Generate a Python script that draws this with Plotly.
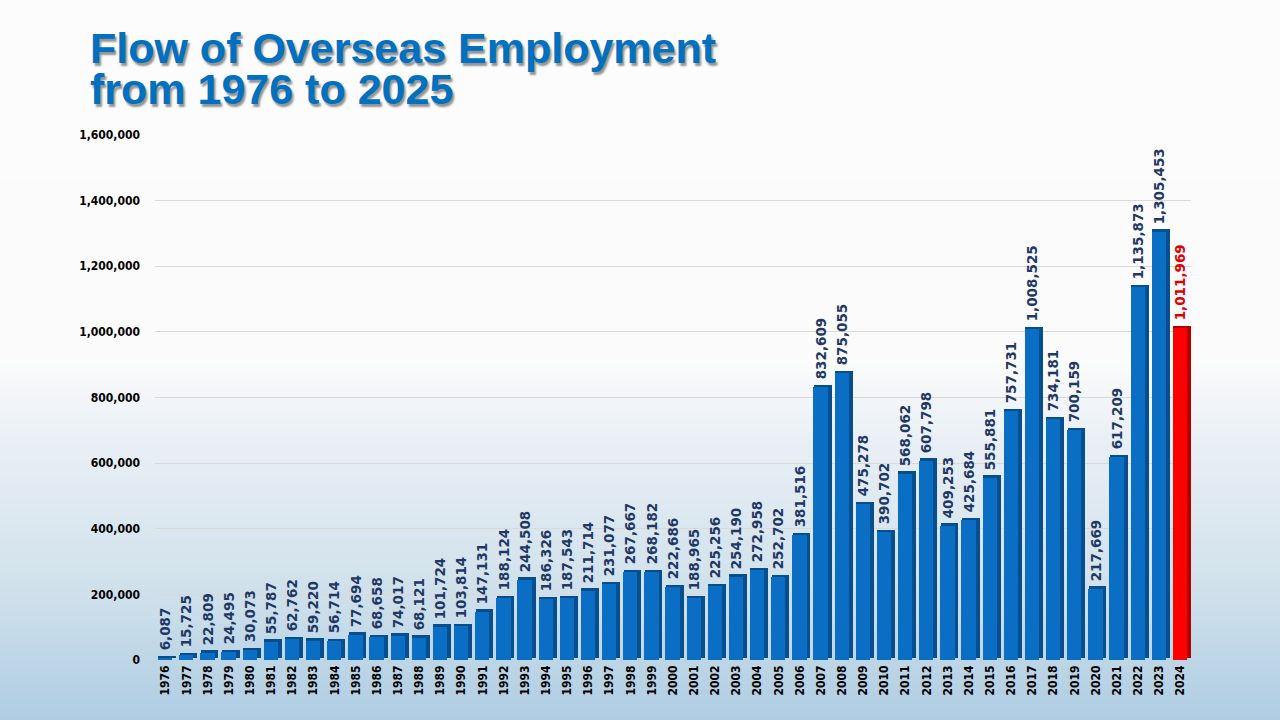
import plotly.graph_objects as go

# Data
years = [str(y) for y in range(1976, 2025)]
deployed = [
    6087, 15725, 22809, 24495, 30073, 55787, 62762, 59220, 56714, 77694,
    68658, 74017, 68121, 101724, 103814, 147131, 188124, 244508, 186326, 187543,
    211714, 231077, 267667, 268182, 222686, 188965, 225256, 254190, 272958, 252702,
    381516, 832609, 875055, 475278, 390702, 568062, 607798, 409253, 425684, 555881,
    757731, 1008525, 734181, 700159, 217669, 617209, 1135873, 1305453, 1011969,
]
y_ticks = [0, 200000, 400000, 600000, 800000, 1000000, 1200000, 1400000, 1600000]
title_lines = ["Flow of Overseas Employment", "from 1976 to 2025"]

W, H = 1280, 720
# plot area in pixels
PX0, PX1, PY0, PY1 = 155, 1191, 135, 660

face = ["#0a6fc4"] * len(years)
side = ["#064f8f"] * len(years)
label_col = ["#1f3864"] * len(years)
face[-1], side[-1], label_col[-1] = "#ff0000", "#b00000", "#e00000"


def hex2rgb(h):
    return tuple(int(h[i:i + 2], 16) for i in (1, 3, 5))


# background gradient stops (pixel row, colour)
stops = [(0, "#fcfcfc"), (360, "#fbfbfb"), (450, "#e7eef5"), (580, "#d2e2ec"), (720, "#afcde3")]


def colour_at(py):
    for (a, ca), (b, cb) in zip(stops, stops[1:]):
        if a <= py <= b:
            t = (py - a) / (b - a)
            r1, r2 = hex2rgb(ca), hex2rgb(cb)
            return "rgb(%d,%d,%d)" % tuple(round(u + (v - u) * t) for u, v in zip(r1, r2))
    return stops[-1][1]


def px_to_paper_x(px):
    return (px - PX0) / (PX1 - PX0)


def px_to_paper_y(py):
    return (PY1 - py) / (PY1 - PY0)


shapes = []
step = 6
for py in range(0, H, step):
    shapes.append(dict(
        type="rect", xref="paper", yref="paper", layer="below",
        x0=px_to_paper_x(-2), x1=px_to_paper_x(W + 2),
        y0=px_to_paper_y(py + step + 1), y1=px_to_paper_y(py),
        fillcolor=colour_at(py + step / 2), line=dict(width=0),
    ))

fig = go.Figure()

# dark side / top of each bar for a 3D look
fig.add_trace(go.Bar(
    x=years, y=deployed, base=[7000] * len(years),
    offset=-0.34, width=0.84,
    marker=dict(color=side, line=dict(width=0)),
    hoverinfo="skip", showlegend=False,
))

# front face of the bars with the value labels
fig.add_trace(go.Bar(
    x=years, y=deployed,
    offset=-0.36, width=0.68,
    marker=dict(color=face, line=dict(width=0)),
    texttemplate=" %{y:,}", textposition="outside", textangle=-90,
    constraintext="none", cliponaxis=False,
    textfont=dict(family="DejaVu Sans", size=13.5, color=label_col, weight="bold"),
    showlegend=False,
))

# title in two lines set close together like the slide
for i, line in enumerate(title_lines):
    fig.add_annotation(
        text=line, xref="paper", yref="paper",
        x=px_to_paper_x(88), y=px_to_paper_y(22 + 41 * i), xanchor="left", yanchor="top",
        showarrow=False,
        font=dict(family="Liberation Sans", size=43, color="#0070c0", weight="bold",
                  shadow="2px 3px 2px rgba(60,60,60,0.55)"),
    )

fig.update_layout(
    width=W, height=H,
    margin=dict(l=PX0, r=W - PX1, t=PY0, b=H - PY1),
    paper_bgcolor="#fcfcfc", plot_bgcolor="rgba(0,0,0,0)",
    barmode="overlay", bargap=0,
    shapes=shapes,
    xaxis=dict(
        type="category", tickangle=-90, showgrid=False, showline=False, ticks="",
        tickfont=dict(family="DejaVu Sans Condensed", size=12, color="#000000", weight="bold"),
        ticklabelstandoff=2,
    ),
    yaxis=dict(
        range=[0, 1600000], tickvals=y_ticks, tickformat=",",
        showgrid=True, gridcolor="#d9d9d9", gridwidth=1, zeroline=False,
        tickfont=dict(family="DejaVu Sans Condensed", size=12, color="#000000", weight="bold"),
        ticklabelstandoff=14,
    ),
)

fig.write_html("out.html", config={"displayModeBar": False},
               post_script="document.body.style.margin='0';")
